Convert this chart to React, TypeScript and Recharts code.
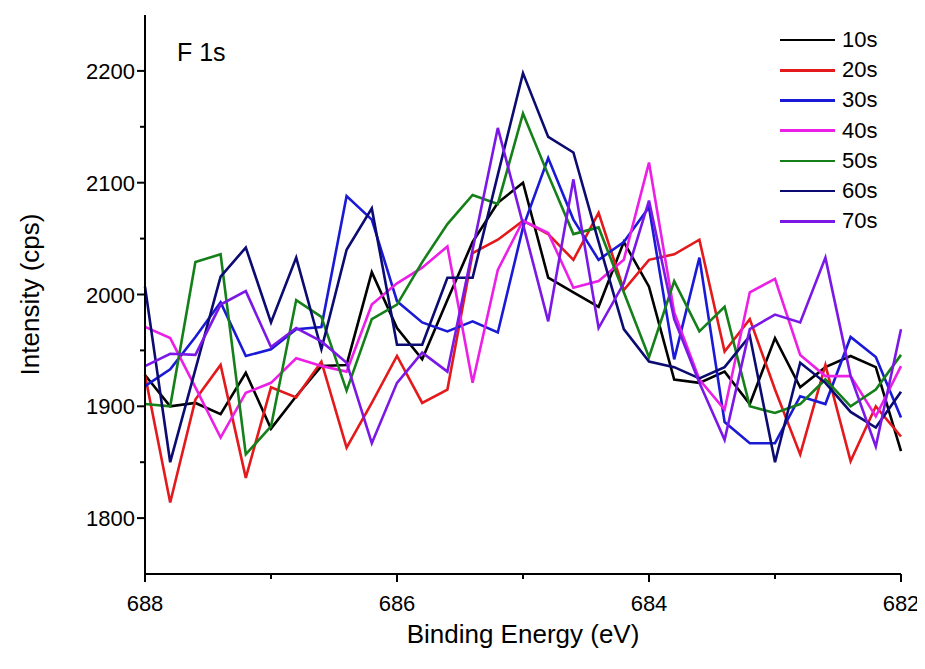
import React from 'react';
import { LineChart, Line, XAxis, YAxis, Label } from 'recharts';

// binding energy (eV), 0.2 eV steps
const energies = [
  688, 687.8, 687.6, 687.4, 687.2, 687, 686.8, 686.6, 686.4, 686.2, 686,
  685.8, 685.6, 685.4, 685.2, 685, 684.8, 684.6, 684.4, 684.2, 684,
  683.8, 683.6, 683.4, 683.2, 683, 682.8, 682.6, 682.4, 682.2, 682,
];

const s10 = [1928, 1900, 1903, 1893, 1930, 1880, 1909, 1936, 1937, 2020, 1970, 1942, 1995, 2047, 2082, 2100, 2015, 2002, 1989, 2047, 2007, 1924, 1921, 1931, 1902, 1961, 1917, 1935, 1945, 1935, 1860];
const s20 = [1928, 1814, 1906, 1937, 1836, 1917, 1908, 1940, 1863, 1903, 1945, 1903, 1915, 2037, 2049, 2066, 2054, 2031, 2073, 2004, 2031, 2036, 2049, 1949, 1978, 1915, 1857, 1937, 1851, 1900, 1873];
const s30 = [1918, 1933, 1962, 1993, 1945, 1951, 1969, 1971, 2088, 2067, 1994, 1975, 1967, 1976, 1966, 2060, 2122, 2067, 2031, 2047, 2078, 1942, 2033, 1886, 1867, 1867, 1909, 1902, 1962, 1944, 1890];
const s40 = [1971, 1961, 1917, 1872, 1912, 1921, 1943, 1936, 1931, 1991, 2010, 2024, 2043, 1921, 2022, 2066, 2055, 2006, 2012, 2031, 2118, 1984, 1924, 1897, 2002, 2014, 1946, 1927, 1927, 1891, 1936];
const s50 = [1902, 1900, 2029, 2036, 1857, 1882, 1995, 1980, 1914, 1978, 1991, 2029, 2063, 2089, 2081, 2162, 2107, 2054, 2060, 2002, 1944, 2012, 1967, 1989, 1900, 1894, 1902, 1924, 1900, 1915, 1946];
const s60 = [2007, 1850, 1933, 2016, 2042, 1975, 2033, 1951, 2040, 2077, 1955, 1955, 2015, 2015, 2107, 2198, 2141, 2127, 2047, 1969, 1940, 1935, 1925, 1935, 1963, 1850, 1939, 1921, 1895, 1881, 1913];
const s70 = [1936, 1947, 1946, 1991, 2003, 1953, 1970, 1958, 1939, 1867, 1921, 1948, 1931, 2040, 2149, 2063, 1976, 2103, 1970, 2010, 2084, 1978, 1921, 1870, 1969, 1982, 1975, 2033, 1927, 1864, 1969];

const seriesNames = ['10s', '20s', '30s', '40s', '50s', '60s', '70s'];
const seriesValues = [s10, s20, s30, s40, s50, s60, s70];
const colors = ['#000000', '#e3191c', '#1a1ad6', '#ec1fe6', '#15801a', '#0b0b72', '#7b18e6'];

const xTicks = [682, 683, 684, 685, 686, 687, 688];
const xLabels = [682, 684, 686, 688];
const yTicks = [1800, 1850, 1900, 1950, 2000, 2050, 2100, 2150, 2200];
const yLabels = [1800, 1900, 2000, 2100, 2200];

const data = energies.map((e, i) => {
  const row: Record<string, number> = { e };
  seriesNames.forEach((n, k) => (row[n] = seriesValues[k][i]));
  return row;
});

const FONT = 'Arial, "Liberation Sans", sans-serif';

const XTick = ({ x, y, payload }: any) => {
  const major = xLabels.includes(payload.value);
  return (
    <g>
      <line x1={x} x2={x} y1={y} y2={y + (major ? 8 : 5)} stroke="#000" strokeWidth={2} />
      {major && (
        <text x={x} y={y + 37} textAnchor="middle" fontSize={22} fontFamily={FONT} fill="#000">
          {payload.value}
        </text>
      )}
    </g>
  );
};

const YTick = ({ x, y, payload }: any) => {
  const major = yLabels.includes(payload.value);
  return (
    <g>
      <line x1={x} x2={x - (major ? 8 : 5)} y1={y} y2={y} stroke="#000" strokeWidth={2} />
      {major && (
        <text x={x - 10} y={y + 8} textAnchor="end" fontSize={22} fontFamily={FONT} fill="#000">
          {payload.value}
        </text>
      )}
    </g>
  );
};

export default function App() {
  return (
    <div style={{ position: 'relative', width: 917, height: 661, background: '#fff' }}>
      <LineChart width={917} height={661} data={data} margin={{ top: 7, right: 24, left: 0, bottom: 0 }}>
        <XAxis
          dataKey="e"
          type="number"
          domain={[682, 688]}
          reversed
          ticks={xTicks}
          tick={<XTick />}
          tickSize={0}
          tickMargin={0}
          tickLine={false}
          axisLine={{ stroke: '#000', strokeWidth: 2 }}
          height={95}
          interval={0}
        >
          <Label
            content={({ viewBox }: any) => (
              <text
                x={viewBox.x + viewBox.width / 2}
                y={viewBox.y + 69}
                textAnchor="middle"
                fontSize={26}
                fontFamily={FONT}
                fill="#000"
              >
                Binding Energy (eV)
              </text>
            )}
          />
        </XAxis>
        <XAxis xAxisId="top" orientation="top" dataKey="e" type="number" domain={[682, 688]} reversed height={0} tick={false} tickLine={false} axisLine={{ stroke: '#000', strokeWidth: 2 }} />
        <YAxis
          type="number"
          domain={[1750, 2250]}
          ticks={yTicks}
          tick={<YTick />}
          tickSize={0}
          tickMargin={0}
          tickLine={false}
          axisLine={{ stroke: '#000', strokeWidth: 2 }}
          width={137}
          interval={0}
        >
          <Label
            content={({ viewBox }: any) => {
              const cx = 22;
              const cy = viewBox.y + viewBox.height / 2;
              return (
                <text
                  x={cx}
                  y={cy}
                  transform={`rotate(-90 ${cx} ${cy})`}
                  textAnchor="middle"
                  dominantBaseline="central"
                  fontSize={26}
                  fontFamily={FONT}
                  fill="#000"
                >
                  Intensity (cps)
                </text>
              );
            }}
          />
        </YAxis>
        <YAxis yAxisId="right" orientation="right" domain={[1750, 2250]} width={0} tick={false} tickLine={false} axisLine={{ stroke: '#000', strokeWidth: 2 }} />
        {seriesNames.map((n, k) => (
          <Line
            key={n}
            dataKey={n}
            type="linear"
            stroke={colors[k]}
            strokeWidth={2.6}
            dot={false}
            isAnimationActive={false}
          />
        ))}
      </LineChart>
      <div style={{ position: 'absolute', left: 169, top: 30, fontFamily: FONT, fontSize: 25, color: '#000' }}>F 1s</div>
      <div style={{ position: 'absolute', left: 772, top: 17, fontFamily: FONT, fontSize: 22, color: '#000' }}>
        {seriesNames.map((n, k) => (
          <div key={n} style={{ display: 'flex', alignItems: 'center', height: 30.2 }}>
            <div style={{ width: 55, height: 2.6, background: colors[k], marginRight: 7 }} />
            <span>{n}</span>
          </div>
        ))}
      </div>
    </div>
  );
}
